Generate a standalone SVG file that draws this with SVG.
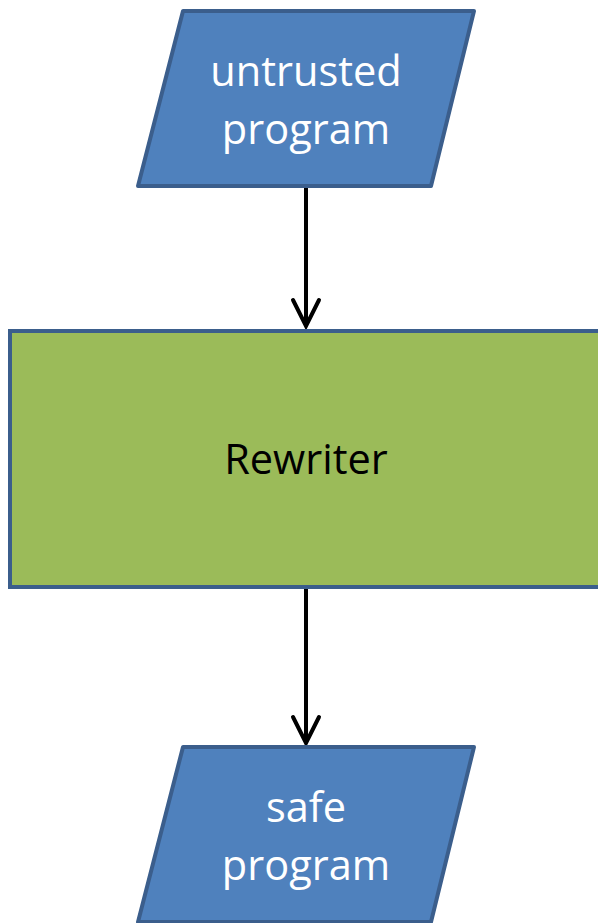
<svg xmlns="http://www.w3.org/2000/svg" width="598" height="923" viewBox="0 0 598 923">
  <defs>
    <style>
      .io { fill: #4F81BD; stroke: #3B5E8C; stroke-width: 4; stroke-linejoin: round; }
      .proc { fill: #9BBB59; stroke: #3B5E8C; stroke-width: 4; }
      .lbl { font-family: "Open Sans", "Liberation Sans", sans-serif; font-size: 41.5px; text-anchor: middle; }
      .light { fill: #FFFFFF; }
      .dark { fill: #000000; }
      .edge { stroke: #000000; stroke-width: 4; fill: none; }
      .head { stroke: #000000; stroke-width: 4; fill: none; stroke-linecap: round; stroke-linejoin: miter; }
    </style>
  </defs>
  <rect width="598" height="923" fill="#FFFFFF"/>

  <g id="connectors">
    <line class="edge" x1="306" y1="187" x2="306" y2="326"/>
    <polyline class="head" points="293,300 306,326 319,300"/>
    <line class="edge" x1="306" y1="588" x2="306" y2="743"/>
    <polyline class="head" points="293,717 306,743 319,717"/>
  </g>

  <g id="untrusted-program">
    <polygon class="io" points="183,11 474,11 431,186 138,186"/>
    <text class="lbl light" x="306" y="86">untrusted</text>
    <text class="lbl light" x="306" y="144">program</text>
  </g>

  <g id="rewriter">
    <rect class="proc" x="10" y="331" width="600" height="256"/>
    <text class="lbl dark" x="306" y="474">Rewriter</text>
  </g>

  <g id="safe-program">
    <polygon class="io" points="183,747 474,747 431,922 138,922"/>
    <text class="lbl light" x="306" y="822">safe</text>
    <text class="lbl light" x="306" y="880">program</text>
  </g>
</svg>
